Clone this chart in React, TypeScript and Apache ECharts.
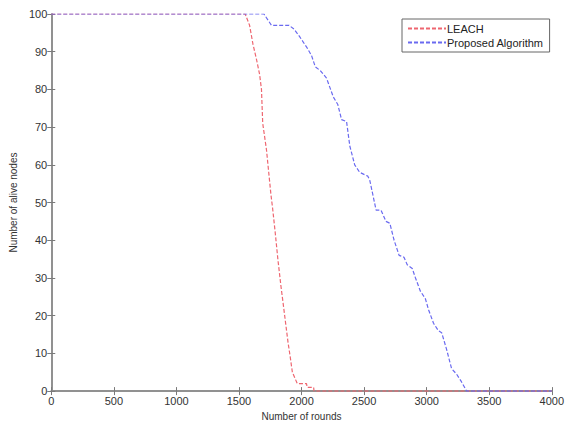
import React, { useEffect, useRef } from "react";
import * as echarts from "echarts";

const xTicks = [0, 500, 1000, 1500, 2000, 2500, 3000, 3500, 4000];
const yTicks = [0, 10, 20, 30, 40, 50, 60, 70, 80, 90, 100];

const seriesNames = ["LEACH", "Proposed Algorithm"];

const leachData: [number, number][] = [
  [0, 100], [1550, 100], [1585, 97], [1612, 92], [1640, 88], [1665, 84], [1680, 80],
  [1690, 71], [1720, 64], [1756, 52], [1769, 48.5], [1790, 42], [1811, 35], [1835, 28],
  [1858, 22], [1892, 13], [1910, 9], [1927, 5], [1966, 2], [2040, 2], [2045, 1],
  [2097, 1], [2100, 0], [4000, 0],
];

const proposedData: [number, number][] = [
  [0, 100], [1700, 100], [1760, 97], [1900, 97], [1940, 96], [1985, 94], [2045, 91],
  [2080, 89], [2110, 86], [2150, 85], [2200, 83], [2254, 78], [2290, 76], [2320, 72],
  [2360, 71.5], [2386, 65], [2425, 60], [2465, 58], [2530, 57], [2545, 56], [2596, 48],
  [2635, 48], [2675, 45], [2706, 44.5], [2740, 40], [2780, 36], [2819, 35.5], [2845, 33.5],
  [2885, 32.5], [2911, 30], [2950, 26.5], [2990, 24.5], [3016, 21.5], [3055, 18],
  [3094, 16], [3120, 15.5], [3160, 11], [3199, 6], [3239, 4.5], [3278, 2.5], [3320, 0],
  [4000, 0],
];

const seriesColors = ["#ee6670", "#6a6af0"];

export default function App() {
  const ref = useRef<HTMLDivElement>(null);
  useEffect(() => {
    if (!ref.current) return;
    const chart = echarts.init(ref.current, undefined, { renderer: "svg", width: 567, height: 426 });
    const axisLine = { show: true, lineStyle: { color: "#8a8a8a", width: 1.5 } };
    const tick = { show: true, inside: true, length: 4, lineStyle: { color: "#7a7a7a", width: 1 } };
    const font = "Liberation Sans, Arial, sans-serif";
    const plain = (v: number) => String(v);
    chart.setOption({
      animation: false,
      backgroundColor: "#ffffff",
      grid: { left: 47, right: 12, top: 14, bottom: 30, containLabel: false },
      legend: {
        show: true,
        orient: "vertical",
        left: 402,
        top: 19,
        width: 148,
        data: seriesNames,
        backgroundColor: "#ffffff",
        borderColor: "#666666",
        borderWidth: 1,
        borderRadius: 0,
        padding: [4, 6, 4, 5],
        itemWidth: 38,
        itemHeight: 10,
        itemGap: 3,
        itemStyle: { opacity: 0 },
        textStyle: { fontFamily: font, fontSize: 11, color: "#222222", padding: [0, 0, 0, -4] },
      },
      xAxis: [
        {
          type: "value",
          position: "bottom",
          min: xTicks[0],
          max: xTicks[xTicks.length - 1],
          interval: xTicks[1] - xTicks[0],
          name: "Number of rounds",
          nameLocation: "middle",
          nameGap: 19,
          nameTextStyle: { fontFamily: font, fontSize: 10, color: "#333333" },
          axisLine,
          axisTick: tick,
          axisLabel: { fontFamily: font, fontSize: 11, color: "#333333", margin: 4, formatter: plain },
          splitLine: { show: false },
        },
        {
          type: "value",
          position: "top",
          min: xTicks[0],
          max: xTicks[xTicks.length - 1],
          interval: xTicks[1] - xTicks[0],
          axisLine,
          axisTick: tick,
          axisLabel: { show: false },
          splitLine: { show: false },
        },
      ],
      yAxis: [
        {
          type: "value",
          position: "left",
          min: yTicks[0],
          max: yTicks[yTicks.length - 1],
          interval: yTicks[1] - yTicks[0],
          name: "Number of alive nodes",
          nameLocation: "middle",
          nameGap: 30,
          nameTextStyle: { fontFamily: font, fontSize: 10, color: "#333333" },
          axisLine,
          axisTick: tick,
          axisLabel: { fontFamily: font, fontSize: 11, color: "#333333", margin: 4, formatter: plain },
          splitLine: { show: false },
        },
        {
          type: "value",
          position: "right",
          min: yTicks[0],
          max: yTicks[yTicks.length - 1],
          interval: yTicks[1] - yTicks[0],
          axisLine,
          axisTick: tick,
          axisLabel: { show: false },
          splitLine: { show: false },
        },
      ],
      series: [
        {
          name: seriesNames[0],
          type: "line",
          data: leachData,
          showSymbol: false,
          symbol: "none",
          xAxisIndex: 0,
          yAxisIndex: 0,
          color: seriesColors[0],
          lineStyle: { color: seriesColors[0], width: 1.2, type: [4, 2] },
          z: 3,
        },
        {
          name: seriesNames[1],
          type: "line",
          data: proposedData,
          showSymbol: false,
          symbol: "none",
          xAxisIndex: 0,
          yAxisIndex: 0,
          color: seriesColors[1],
          lineStyle: { color: seriesColors[1], width: 1.2, type: [4, 2] },
          z: 3,
        },
      ],
    });
    return () => chart.dispose();
  }, []);
  return (
    <div
      ref={ref}
      style={{ position: "fixed", left: 0, top: 0, width: 567, height: 426, overflow: "hidden" }}
    />
  );
}
